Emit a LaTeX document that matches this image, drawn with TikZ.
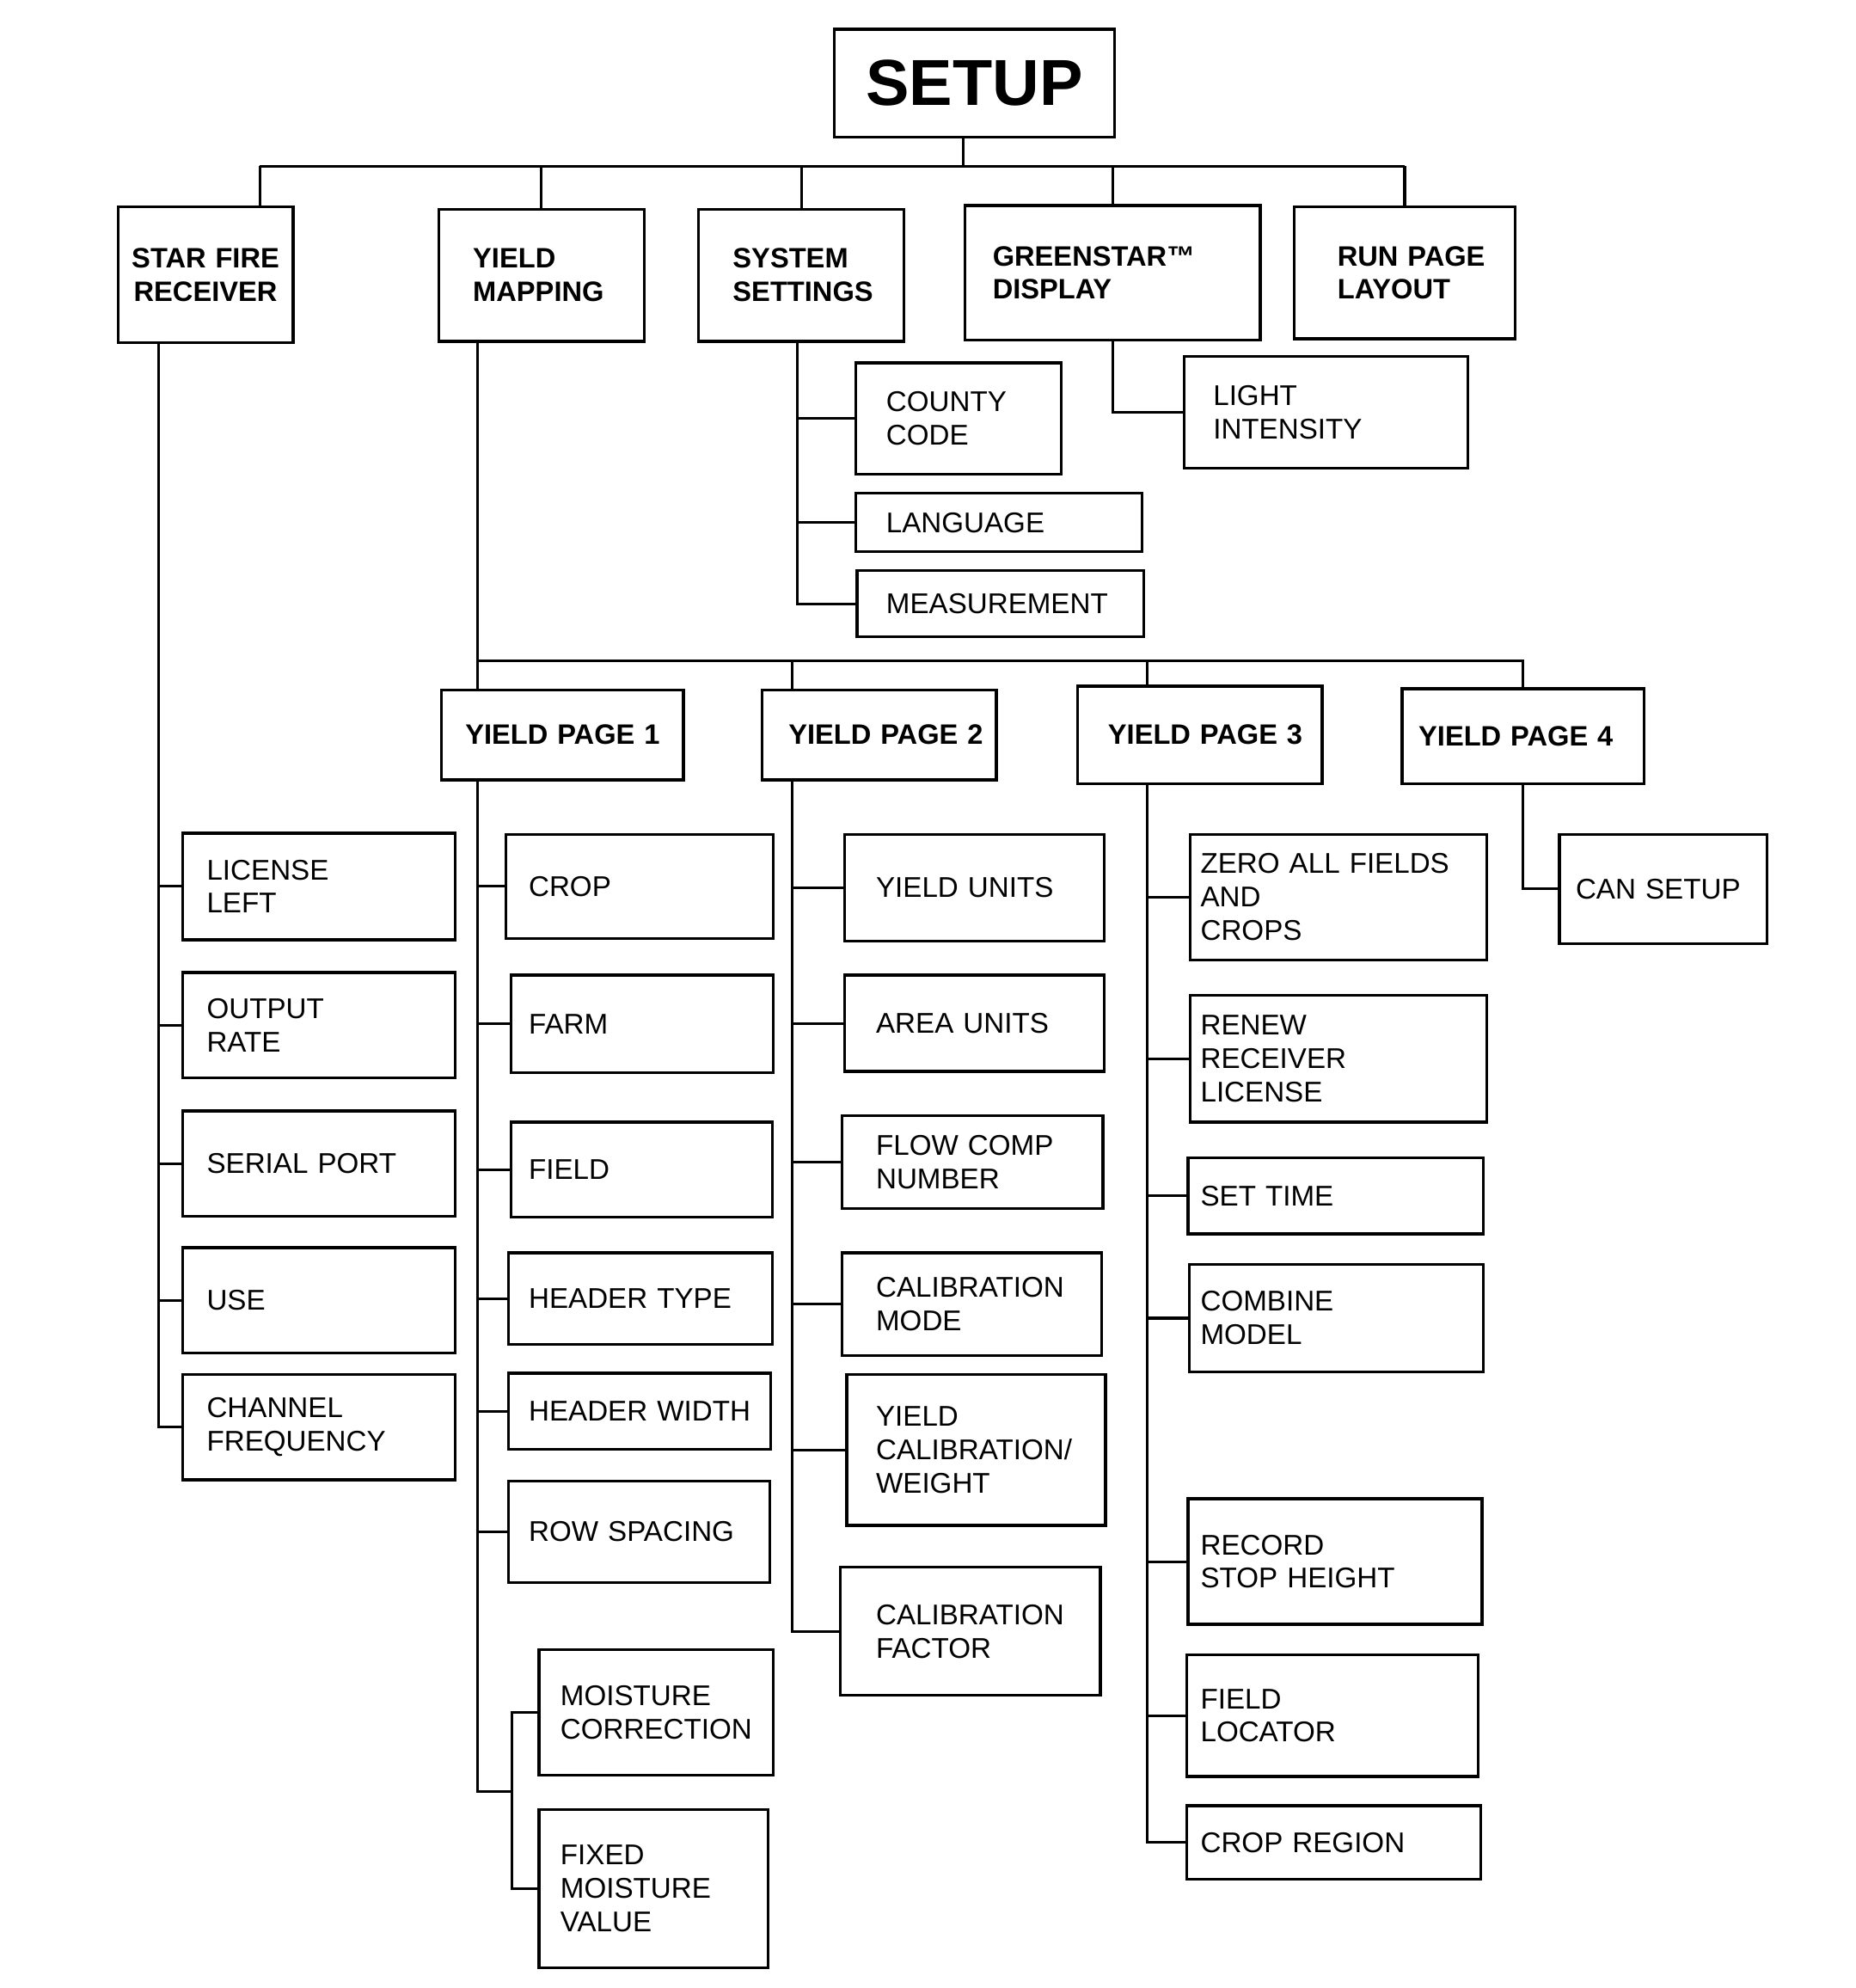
\documentclass[tikz,border=0pt]{standalone}
\usepackage{fontspec}
\setmainfont{Liberation Sans}
\usepackage{tikz}
\newcommand{\itemfont}{\fontsize{12.8}{15}\selectfont\hyphenpenalty=10000 }
\newcommand{\headfont}{\fontsize{12.6}{15}\selectfont\bfseries\hyphenpenalty=10000 }
\newcommand{\titlefont}{\fontsize{29.2}{32}\selectfont\bfseries}
% box from (x1,y1) to (x2,y2), text starting at tx
\newcommand{\optbox}[8][]{%
  \pgfmathsetmacro\boxw{(#5-#3)*0.02}%
  \pgfmathsetmacro\boxh{(#6-#4)*0.02}%
  \pgfmathsetmacro\boxpad{(#7-#3)*0.02}%
  \pgfmathsetmacro\boxtw{\boxw-2*\boxpad}%
  \node[optbox, inner xsep=\boxpad cm, minimum width=\boxw cm,
    minimum height=\boxh cm, text width=\boxtw cm, #1] (#2) at (#3,#4) {#8};}

\begin{document}
\begin{tikzpicture}[x=0.02cm, y=-0.02cm,
  optbox/.style={draw, line width=1.3pt, anchor=north west, inner ysep=0pt,
    align=left, font=\itemfont},
  head/.style={font=\headfont},
  link/.style={line width=1.2pt}]
  \useasboundingbox (0,0) rectangle (1464,1568);

  % Top level
  \optbox[font=\titlefont, align=center]{setup}{657}{22}{878}{107}{667}{SETUP}
  \optbox[head, align=center]{starfire}{92}{162}{230}{269}{97}{STAR~FIRE\\RECEIVER}
  \optbox[head]{yieldmap}{345}{164}{507}{268}{372}{YIELD\\MAPPING}
  \optbox[head]{sysset}{550}{164}{712}{268}{577}{SYSTEM\\SETTINGS}
  \optbox[head]{greenstar}{760}{161}{993}{267}{782}{GREENSTAR™\\DISPLAY}
  \optbox[head]{runpage}{1020}{162}{1194}{266}{1054}{RUN~PAGE\\LAYOUT}

  \coordinate (top) at (760,131);
  \coordinate (sfdrop) at (205,131);
  \draw[link] (top |- setup.south) -- (top);
  \draw[link] (sfdrop) -- (runpage.north |- top);
  \draw[link] (sfdrop) -- (sfdrop |- starfire.north);
  \foreach \n in {yieldmap,sysset,greenstar,runpage}
    \draw[link] (\n.north |- top) -- (\n.north);

  % Star Fire receiver
  \optbox{license}{143}{656}{358}{740}{162}{LICENSE\\LEFT}
  \optbox{outrate}{143}{766}{358}{849}{162}{OUTPUT\\RATE}
  \optbox{serial}{143}{875}{358}{958}{162}{SERIAL~PORT}
  \optbox{use}{143}{983}{358}{1066}{162}{USE}
  \optbox{chanfreq}{143}{1083}{358}{1166}{162}{CHANNEL\\FREQUENCY}
  \coordinate (sfspine) at (125,269);
  \draw[link] (sfspine) |- (chanfreq.west);
  \foreach \n in {license,outrate,serial,use}
    \draw[link] (sfspine |- \n.west) -- (\n.west);

  % System settings
  \optbox{county}{674}{285}{836}{373}{698}{COUNTY\\CODE}
  \optbox{language}{674}{388}{900}{434}{698}{LANGUAGE}
  \optbox{measure}{675}{449}{901}{501}{698}{MEASUREMENT}
  \coordinate (ssspine) at (629,268);
  \draw[link] (ssspine) |- (measure.west);
  \foreach \n in {county,language}
    \draw[link] (ssspine |- \n.west) -- (\n.west);

  % GreenStar display
  \optbox{light}{933}{280}{1157}{368}{956}{LIGHT\\INTENSITY}
  \draw[link] (greenstar.south) |- (light.west);

  % Yield pages
  \optbox[head]{ypage1}{347}{543}{538}{614}{366}{YIELD~PAGE~1}
  \optbox[head]{ypage2}{600}{543}{785}{614}{621}{YIELD~PAGE~2}
  \optbox[head]{ypage3}{849}{540}{1042}{617}{873}{YIELD~PAGE~3}
  \optbox[head]{ypage4}{1105}{542}{1296}{617}{1118}{YIELD~PAGE~4}
  \coordinate (ymspine) at (377,268);
  \coordinate (ybus) at (377,521);
  \coordinate (yp2spine) at (625,521);
  \coordinate (yp3spine) at (905,521);
  \draw[link] (ymspine) -- (ymspine |- ypage1.north);
  \draw[link] (ybus) -- (ypage4.north |- ybus) -- (ypage4.north);
  \draw[link] (yp2spine) -- (yp2spine |- ypage2.north);
  \draw[link] (yp3spine) -- (yp3spine |- ypage3.north);

  % Yield page 1
  \optbox{crop}{398}{657}{609}{739}{416}{CROP}
  \optbox{farm}{402}{768}{609}{845}{416}{FARM}
  \optbox{field}{402}{884}{608}{959}{416}{FIELD}
  \optbox{htype}{400}{987}{608}{1059}{416}{HEADER~TYPE}
  \optbox{hwidth}{400}{1082}{607}{1142}{416}{HEADER~WIDTH}
  \optbox{rowsp}{400}{1167}{606}{1247}{416}{ROW~SPACING}
  \optbox{moistcorr}{424}{1300}{609}{1399}{441}{MOISTURE\\CORRECTION}
  \optbox{fixmoist}{424}{1426}{605}{1551}{441}{FIXED\\MOISTURE\\VALUE}
  \coordinate (mcorner) at (404,1413);
  \draw[link] (ymspine |- ypage1.south) |- (mcorner);
  \draw[link] (moistcorr.west) -- (moistcorr.west -| mcorner)
    -- (fixmoist.west -| mcorner) -- (fixmoist.west);
  \foreach \n in {crop,farm,field,htype,hwidth,rowsp}
    \draw[link] (ymspine |- \n.west) -- (\n.west);

  % Yield page 2
  \optbox{yunits}{665}{657}{870}{741}{690}{YIELD~UNITS}
  \optbox{aunits}{665}{768}{870}{844}{690}{AREA~UNITS}
  \optbox{flowcomp}{663}{879}{869}{952}{690}{FLOW~COMP\\NUMBER}
  \optbox{calmode}{663}{987}{868}{1068}{690}{CALIBRATION\\MODE}
  \optbox{yieldcal}{667}{1083}{871}{1202}{690}{YIELD\\CALIBRATION/\\WEIGHT}
  \optbox{calfactor}{662}{1235}{867}{1336}{690}{CALIBRATION\\FACTOR}
  \draw[link] (yp2spine |- ypage2.south) |- (calfactor.west);
  \foreach \n in {yunits,aunits,flowcomp,calmode,yieldcal}
    \draw[link] (yp2spine |- \n.west) -- (\n.west);

  % Yield page 3
  \optbox{zeroall}{938}{657}{1172}{756}{946}{ZERO~ALL~FIELDS\\AND\\CROPS}
  \optbox{renew}{938}{784}{1172}{884}{946}{RENEW\\RECEIVER\\LICENSE}
  \optbox{settime}{936}{912}{1169}{972}{946}{SET~TIME}
  \optbox{combine}{937}{996}{1169}{1081}{946}{COMBINE\\MODEL}
  \optbox{recstop}{936}{1181}{1168}{1280}{946}{RECORD\\STOP~HEIGHT}
  \optbox{fieldloc}{935}{1304}{1165}{1400}{946}{FIELD\\LOCATOR}
  \optbox{cropreg}{935}{1423}{1167}{1481}{946}{CROP~REGION}
  \draw[link] (yp3spine |- ypage3.south) |- (cropreg.west);
  \foreach \n in {zeroall,renew,settime,combine,recstop,fieldloc}
    \draw[link] (yp3spine |- \n.west) -- (\n.west);

  % Yield page 4
  \optbox{cansetup}{1229}{657}{1393}{743}{1242}{CAN~SETUP}
  \draw[link] (ypage4.south) |- (cansetup.west);
\end{tikzpicture}
\end{document}
